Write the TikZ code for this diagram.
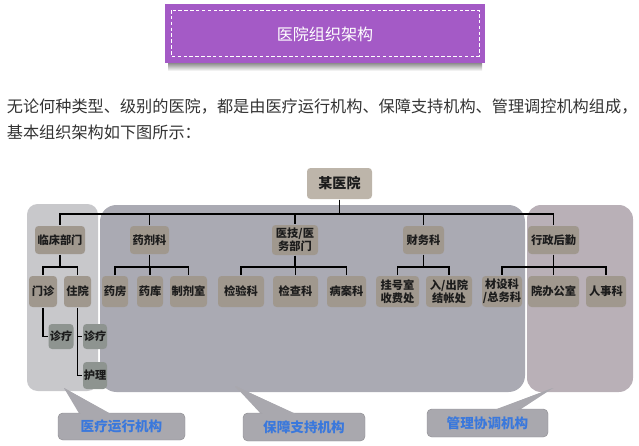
\documentclass[tikz,border=0pt]{standalone}
\usepackage{fontspec}
\setmainfont{Noto Sans CJK SC}
\usetikzlibrary{calc}

\newlength\pxu
\setlength\pxu{0.03cm}

\definecolor{titlepurple}{HTML}{A45AC6}
\definecolor{bodytext}{HTML}{333333}
\definecolor{panelleft}{HTML}{C8C8CB}
\definecolor{panelmid}{HTML}{AAAAB3}
\definecolor{panelright}{HTML}{B9B0B7}
\definecolor{deptgray}{HTML}{A0988E}
\definecolor{topgray}{HTML}{BDB5AA}
\definecolor{subgray}{HTML}{8E9490}
\definecolor{boxtext}{HTML}{1C1C1C}
\definecolor{calloutgray}{HTML}{A9A8AE}
\definecolor{calloutblue}{HTML}{3A78DC}

\tikzset{
  deptbox/.style={fill=deptgray, rounded corners=3pt, inner sep=0pt, align=center,
    text=boxtext, font=\fontsize{9.6}{10.8}\selectfont\bfseries, minimum height=28\pxu},
  unitbox/.style={deptbox, minimum height=31\pxu},
  subbox/.style={deptbox, fill=subgray, minimum height=25\pxu, minimum width=24\pxu},
  callout/.style={fill=calloutgray, draw=calloutgray!85!black, line width=0.4pt,
    rounded corners=4pt, inner sep=0pt, text=calloutblue,
    font=\fontsize{11.6}{13}\selectfont\bfseries},
}

\begin{document}
\begin{tikzpicture}[x=0.03cm,y=-0.03cm,line width=1.5pt]
  \useasboundingbox (0,0) rectangle (639,446);
  % cabecera
  \shade[top color=black!45, bottom color=white] (168,63) rectangle (482,71);
  \fill[titlepurple] (165,4) rectangle (485,63);
  \draw[white, line width=0.8pt, dash pattern=on 3pt off 2pt] (171,10) rectangle (479,56);
  \node[text=white, font=\fontsize{13.7}{15}\selectfont] (title) at (325,34) {医院组织架构};
  % texto
  \node[anchor=west, text=bodytext, inner sep=0pt, font=\fontsize{13.8}{15}\selectfont] (line1) at (6,107)
    {无论何种类型、级别的医院，都是由医疗运行机构、保障支持机构、管理调控机构组成，};
  \node[anchor=west, text=bodytext, inner sep=0pt, font=\fontsize{13.8}{15}\selectfont] (line2) at (6,132)
    {基本组织架构如下图所示：};
  % paneles de fondo
  \fill[panelleft, rounded corners=9pt] (27,204) rectangle (98,391);
  \fill[panelmid, rounded corners=14pt] (100,205) rectangle (525,392);
  \fill[panelright, rounded corners=12pt] (527,205) rectangle (633,392);
  % nivel superior
  \node[deptbox, fill=topgray, minimum width=65\pxu, minimum height=31\pxu,
    font=\fontsize{12}{13}\selectfont\bfseries] (hosp) at (339.5,183.5) {某医院};
  % departamentos
  \node[deptbox, minimum width=50\pxu] (linchuang) at (60,240) {临床部门};
  \node[deptbox, minimum width=39\pxu] (yaoji) at (149.5,240) {药剂科};
  \node[deptbox, minimum width=46\pxu, minimum height=30\pxu] (yiji) at (295,240) {医技/医\\务部门};
  \node[deptbox, minimum width=41\pxu] (caiwu) at (423.5,240) {财务科};
  \node[deptbox, minimum width=51\pxu] (xingzheng) at (553.5,240) {行政后勤};
  % unidades
  \node[unitbox, minimum width=28\pxu] (menzhen) at (43,291.5) {门诊};
  \node[unitbox, minimum width=27\pxu] (zhuyuan) at (77.5,291.5) {住院};
  \node[unitbox, minimum width=26\pxu] (yaofang) at (115,291.5) {药房};
  \node[unitbox, minimum width=26\pxu] (yaoku) at (150,291.5) {药库};
  \node[unitbox, minimum width=37\pxu] (zhiji) at (188.5,291.5) {制剂室};
  \node[unitbox, minimum width=46\pxu] (jianyan) at (241,291.5) {检验科};
  \node[unitbox, minimum width=45\pxu] (jiancha) at (295.5,291.5) {检查科};
  \node[unitbox, minimum width=39\pxu] (bingan) at (346.5,291.5) {病案科};
  \node[unitbox, minimum width=43\pxu] (guahao) at (397.5,291.5) {挂号室\\收费处};
  \node[unitbox, minimum width=46\pxu] (jiezhang) at (449,291.5) {入/出院\\结帐处};
  \node[unitbox, minimum width=40\pxu] (zongwu) at (502,291.5) {材设科\\/总务科};
  \node[unitbox, minimum width=51\pxu] (yuanban) at (553.5,291.5) {院办公室};
  \node[unitbox, minimum width=40\pxu] (renshi) at (606,291.5) {人事科};
  % subunidades
  \node[subbox, minimum width=25\pxu] (zhenliaoA) at (61,336.5) {诊疗};
  \node[subbox] (zhenliaoB) at (95,336.5) {诊疗};
  \node[subbox, minimum height=27\pxu] (huli) at (95,375.5) {护理};
  % conexiones
  \foreach \c in {linchuang,yaoji,yiji,caiwu,xingzheng}
    \draw (hosp.south) -- ++(0,14) -| (\c.north);
  \foreach \c in {menzhen,zhuyuan}
    \draw (linchuang.south) -- ++(0,12) -| (\c.north);
  \foreach \c in {yaofang,yaoku,zhiji}
    \draw (yaoji.south) -- ++(0,12) -| (\c.north);
  \foreach \c in {jianyan,jiancha,bingan}
    \draw (yiji.south) -- ++(0,11) -| (\c.north);
  \foreach \c in {guahao,jiezhang}
    \draw (caiwu.south) -- ++(0,12) -| (\c.north);
  \foreach \c in {zongwu,yuanban,renshi}
    \draw (xingzheng.south) -- ++(0,12) -| (\c.north);
  \draw (menzhen.south) |- (zhenliaoA.west);
  \draw (zhuyuan.south) |- (huli.west);
  \draw (zhuyuan.south |- zhenliaoB.west) -- (zhenliaoB.west);
  % globos
  \coordinate (tipA) at (64,388);
  \coordinate (tipB) at (235,386);
  \coordinate (tipC) at (553,388);
  \fill[calloutgray] (tipA) -- (80,415) -- (112,415) -- cycle;
  \fill[calloutgray] (tipB) -- (262,415) -- (297,415) -- cycle;
  \fill[calloutgray] (tipC) -- (493,411) -- (518,411) -- cycle;
  \node[callout, minimum width=127\pxu, minimum height=27\pxu] (yiliao) at (121.5,426.5) {医疗运行机构};
  \node[callout, minimum width=122\pxu, minimum height=28\pxu] (baozhang) at (304,427) {保障支持机构};
  \node[callout, minimum width=121\pxu, minimum height=28\pxu] (guanli) at (487.5,423) {管理协调机构};
  \fill[calloutgray] (tipA) -- (81,414) -- (111,414) -- cycle;
  \fill[calloutgray] (tipB) -- (263,414) -- (296,414) -- cycle;
  \fill[calloutgray] (tipC) -- (494,410) -- (517,410) -- cycle;
\end{tikzpicture}
\end{document}
